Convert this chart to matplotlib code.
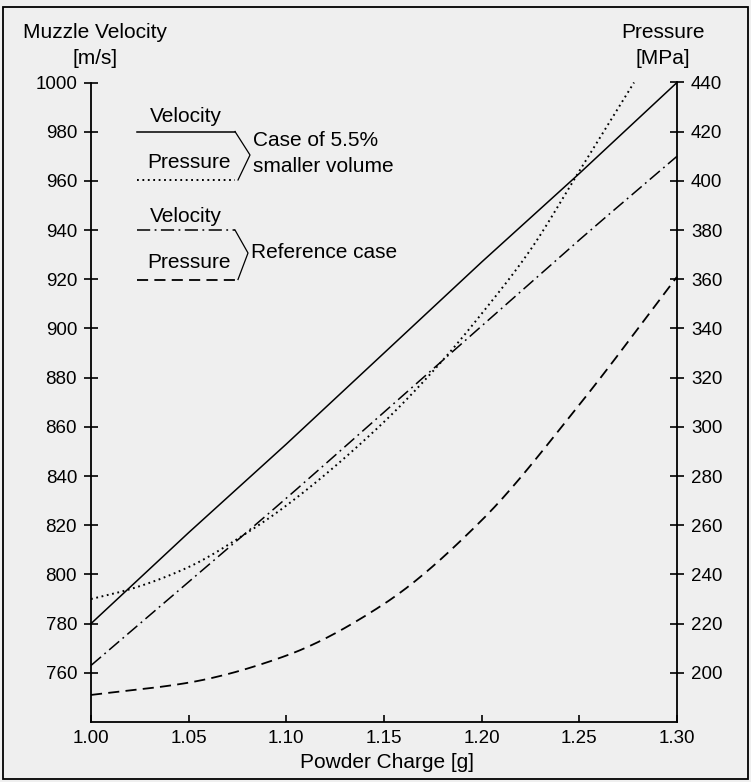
import numpy as np
import matplotlib
matplotlib.use("Agg")
import matplotlib.pyplot as plt
from matplotlib.lines import Line2D
from matplotlib.patches import Rectangle

plt.rcParams['font.family'] = ['Liberation Sans', 'DejaVu Sans']
plt.rcParams['lines.scale_dashes'] = False

# Powder charge [g] and the readings for each curve
charge_ticks = [1.00, 1.05, 1.10, 1.15, 1.20, 1.25, 1.30]
tick_labels_x = ["1.00", "1.05", "1.10", "1.15", "1.20", "1.25", "1.30"]

# Case of 5.5% smaller volume
charge_vel_small = [1.00, 1.05, 1.10, 1.15, 1.20, 1.25, 1.30]
vel_small = [780, 817, 853, 890, 927, 963, 1000]              # m/s
charge_pres_small = [1.00, 1.02, 1.05, 1.08, 1.10, 1.15, 1.18, 1.20, 1.225, 1.25, 1.278]
pres_small = [230, 234, 243, 257, 268, 302, 327, 346, 372, 404, 440]  # MPa

# Reference case
charge_vel_ref = [1.00, 1.05, 1.10, 1.15, 1.20, 1.25, 1.30]
vel_ref = [763, 797, 831, 866, 901, 936, 970]                 # m/s
charge_pres_ref = [1.00, 1.05, 1.10, 1.15, 1.20, 1.25, 1.30]
pres_ref = [191, 196, 207, 228, 262, 309, 361]                 # MPa

vel_ticks = list(range(760, 1001, 20))
pres_ticks = list(range(200, 441, 20))


def pchip(x, y, n=200):
    """Shape-preserving cubic through the readings, for a smooth drawn curve."""
    x = np.asarray(x, float)
    y = np.asarray(y, float)
    h = np.diff(x)
    d = np.diff(y) / h
    m = np.zeros_like(y)
    for k in range(1, len(x) - 1):
        if d[k - 1] * d[k] > 0:
            w1 = 2 * h[k] + h[k - 1]
            w2 = h[k] + 2 * h[k - 1]
            m[k] = (w1 + w2) / (w1 / d[k - 1] + w2 / d[k])
    m[0] = d[0]
    m[-1] = d[-1]
    xs = np.linspace(x[0], x[-1], n)
    idx = np.clip(np.searchsorted(x, xs) - 1, 0, len(x) - 2)
    t = (xs - x[idx]) / h[idx]
    h00 = 2 * t**3 - 3 * t**2 + 1
    h10 = t**3 - 2 * t**2 + t
    h01 = -2 * t**3 + 3 * t**2
    h11 = t**3 - t**2
    ys = (h00 * y[idx] + h10 * h[idx] * m[idx] +
          h01 * y[idx + 1] + h11 * h[idx] * m[idx + 1])
    return xs, ys


W, H = 751, 782
BG = '#efefef'
fig = plt.figure(figsize=(W / 100, H / 100), dpi=100, facecolor=BG)


def fx(px):
    return px / W


def fy(py):
    return 1 - py / H


left_px, right_px, top_px, bottom_px = 91, 677, 82.5, 722
ax = fig.add_axes([fx(left_px), fy(bottom_px),
                   (right_px - left_px) / W, (bottom_px - top_px) / H])
ax.set_facecolor('none')
ax2 = ax.twinx()
ax2.set_facecolor('none')

lw = 1.1
SOLID = '-'
DOTTED = (0, (1.3, 2.6))
DASHDOT = (0, (9.5, 3.2, 1.3, 3.2))
DASHED = (0, (8.0, 4.5))

ax.plot(charge_vel_small, vel_small, color='black', lw=lw, ls=SOLID, clip_on=False)
ax.plot(*pchip(charge_vel_ref, vel_ref), color='black', lw=lw, ls=DASHDOT, clip_on=False)
ax2.plot(*pchip(charge_pres_small, pres_small), color='black', lw=lw + 0.3, ls=DOTTED,
         clip_on=False)
ax2.plot(*pchip(charge_pres_ref, pres_ref), color='black', lw=lw + 0.2, ls=DASHED,
         clip_on=False)

ax.set_xlim(1.00, 1.30)
ax.set_ylim(740, 1000)
ax2.set_ylim(180, 440)

ax.set_xticks(charge_ticks)
ax.set_xticklabels(tick_labels_x)
ax.set_yticks(vel_ticks)
ax.set_yticklabels([str(v) for v in vel_ticks])
ax2.set_yticks(pres_ticks)
ax2.set_yticklabels([str(v) for v in pres_ticks])

for s in ['top', 'right']:
    ax.spines[s].set_visible(False)
for s in ['top', 'left', 'bottom']:
    ax2.spines[s].set_visible(False)
for sp in [ax.spines['left'], ax.spines['bottom'], ax2.spines['right']]:
    sp.set_linewidth(1.3)

ax.tick_params(axis='x', direction='in', length=5, width=1.2, labelsize=13.5, pad=6)
ax.tick_params(axis='y', direction='inout', length=10, width=1.2, labelsize=13.5, pad=5)
ax2.tick_params(axis='y', direction='inout', length=10, width=1.2, labelsize=13.5, pad=5)

# axis titles
fs_title = 15
fig.text(fx(95), fy(32), "Muzzle Velocity", ha='center', va='center', fontsize=fs_title)
fig.text(fx(95), fy(59), "[m/s]", ha='center', va='center', fontsize=fs_title)
fig.text(fx(663), fy(32), "Pressure", ha='center', va='center', fontsize=fs_title)
fig.text(fx(663), fy(59), "[MPa]", ha='center', va='center', fontsize=fs_title)
fig.text(fx(387), fy(763), "Powder Charge [g]", ha='center', va='center', fontsize=fs_title)

# key with brackets
fs_key = 15


def key_line(y, ls, width):
    fig.add_artist(Line2D([fx(137), fx(235)], [fy(y), fy(y)], color='black',
                          lw=width, ls=ls))


def bracket(y_top, y_mid, y_bot, x_tip):
    fig.add_artist(Line2D([fx(235), fx(x_tip), fx(238)],
                          [fy(y_top), fy(y_mid), fy(y_bot)],
                          color='black', lw=0.9))


fig.text(fx(186), fy(116), "Velocity", ha='center', va='center', fontsize=fs_key)
key_line(131.5, SOLID, lw)
fig.text(fx(189), fy(163), "Pressure", ha='center', va='center', fontsize=fs_key)
key_line(180, DOTTED, lw + 0.3)
bracket(131.5, 155, 180, 250)
fig.text(fx(253), fy(140), "Case of 5.5%", ha='left', va='center', fontsize=fs_key)
fig.text(fx(253), fy(167), "smaller volume", ha='left', va='center', fontsize=fs_key)

fig.text(fx(186), fy(216), "Velocity", ha='center', va='center', fontsize=fs_key)
key_line(230, DASHDOT, lw)
fig.text(fx(189), fy(263), "Pressure", ha='center', va='center', fontsize=fs_key)
key_line(279.5, DASHED, lw + 0.2)
bracket(230, 253, 279.5, 248)
fig.text(fx(251), fy(253), "Reference case", ha='left', va='center', fontsize=fs_key)

# frame around the figure
fig.add_artist(Rectangle((fx(3), fy(779)), (748 - 3) / W, (779 - 7) / H,
                         transform=fig.transFigure, fill=False,
                         edgecolor='black', lw=1.3))

fig.savefig("out.png", dpi=100, facecolor=BG)
